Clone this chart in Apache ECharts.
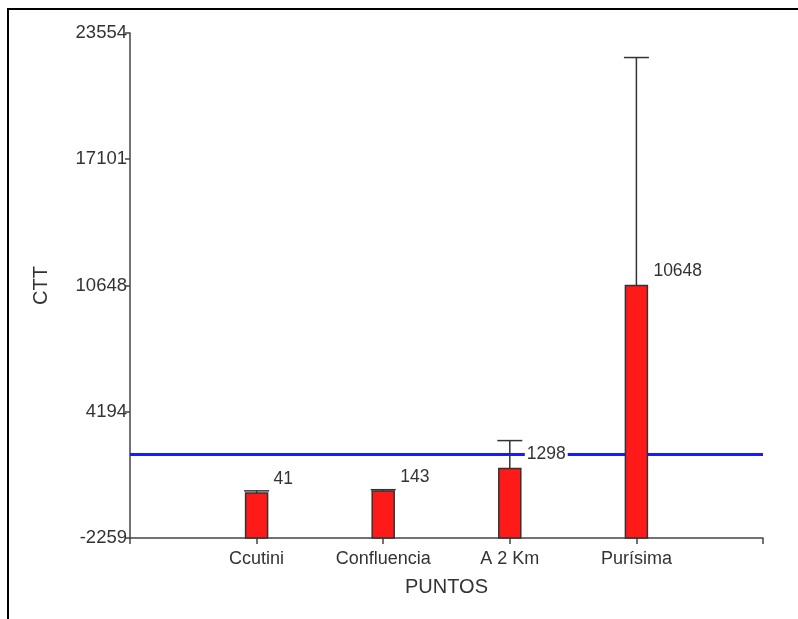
<!DOCTYPE html>
<html>
<head>
<meta charset="utf-8">
<script src="https://cdn.jsdelivr.net/npm/echarts@6/dist/echarts.min.js"></script>
<style>
html,body{margin:0;padding:0;background:#fff;}
#chart{width:798px;height:619px;}
</style>
</head>
<body>
<div id="chart"></div>
<script>
// ---- data ----
const categories = ['', 'Ccutini', 'Confluencia', 'A 2 Km', 'Purísima', ''];
const barIndex = [1, 2, 3, 4];
const barValues = [41, 143, 1298, 10648];
const errorTops = [150, 210, 2720, 22300];
const yTicks = [-2259, 4194, 10648, 17101, 23554];
const referenceLine = 2000;

const yMin = yTicks[0], yMax = yTicks[yTicks.length - 1];
const FONT = 'Liberation Sans, Arial, sans-serif';

const chart = echarts.init(document.getElementById('chart'), null, {renderer: 'canvas'});
const barData = barIndex.map((x, i) => [x, barValues[i], errorTops[i]]);

chart.setOption({
  animation: false,
  backgroundColor: '#fff',
  graphic: [{
    type: 'rect', silent: true, z: 100,
    shape: {x: 8, y: 9, width: 820, height: 640},
    style: {fill: 'none', stroke: '#000', lineWidth: 2}
  }],
  grid: {left: 130, top: 33, right: 35, bottom: 81, containLabel: false},
  xAxis: {
    type: 'category',
    data: categories,
    boundaryGap: false,
    name: 'PUNTOS',
    nameLocation: 'middle',
    nameGap: 39,
    nameTextStyle: {fontFamily: FONT, fontSize: 20, color: '#333'},
    axisLine: {onZero: false, lineStyle: {color: '#444', width: 1.5}},
    axisTick: {show: true, length: 6, interval: 0, lineStyle: {color: '#444', width: 1.5}},
    axisLabel: {interval: 0, margin: 12, fontFamily: FONT, fontSize: 18, color: '#333'},
    splitLine: {show: false}
  },
  yAxis: {
    type: 'value',
    min: yMin,
    max: yMax,
    name: 'CTT',
    nameLocation: 'middle',
    nameRotate: 90,
    nameGap: 79,
    nameTextStyle: {fontFamily: FONT, fontSize: 20, color: '#333'},
    axisLine: {show: true, onZero: false, lineStyle: {color: '#444', width: 1.5}},
    axisTick: {show: true, length: 5, customValues: yTicks, lineStyle: {color: '#444', width: 1.5}},
    axisLabel: {customValues: yTicks, margin: 3, fontFamily: FONT, fontSize: 18.5, color: '#333',
      formatter: v => String(Math.round(v))},
    splitLine: {show: false}
  },
  series: [
    {
      type: 'line',
      data: [],
      z: 1,
      markLine: {
        z: 1,
        silent: true,
        symbol: 'none',
        label: {show: false},
        lineStyle: {color: '#1a1aff', width: 3, type: 'solid'},
        data: [{yAxis: referenceLine}]
      }
    },
    {
      type: 'custom',
      z: 10,
      data: barData,
      encode: {x: 0, y: 1},
      renderItem: function (params, api) {
        const v = api.value(1), e = api.value(2), i = api.value(0);
        const base = api.coord([i, yMin]);
        const top = api.coord([i, v]);
        const et = api.coord([i, e]);
        const bw = 22, cw = 25;
        return {
          type: 'group',
          children: [
            {type: 'line', shape: {x1: top[0], y1: top[1], x2: et[0], y2: et[1]}, style: {stroke: '#333', lineWidth: 1.5}},
            {type: 'line', shape: {x1: et[0] - cw / 2, y1: et[1], x2: et[0] + cw / 2, y2: et[1]}, style: {stroke: '#333', lineWidth: 1.5}},
            {type: 'rect', shape: {x: base[0] - bw / 2, y: top[1], width: bw, height: base[1] - top[1]},
              style: {fill: '#ff1a1a', stroke: '#333', lineWidth: 1.5}},
            {type: 'text', x: top[0] + bw / 2 + 4, y: top[1] - 14,
              style: {text: String(v), fill: '#333', font: '17.5px ' + FONT, verticalAlign: 'middle',
                align: 'left', backgroundColor: '#fff', padding: [0, 2]}}
          ]
        };
      }
    }
  ]
});
</script>
</body>
</html>
